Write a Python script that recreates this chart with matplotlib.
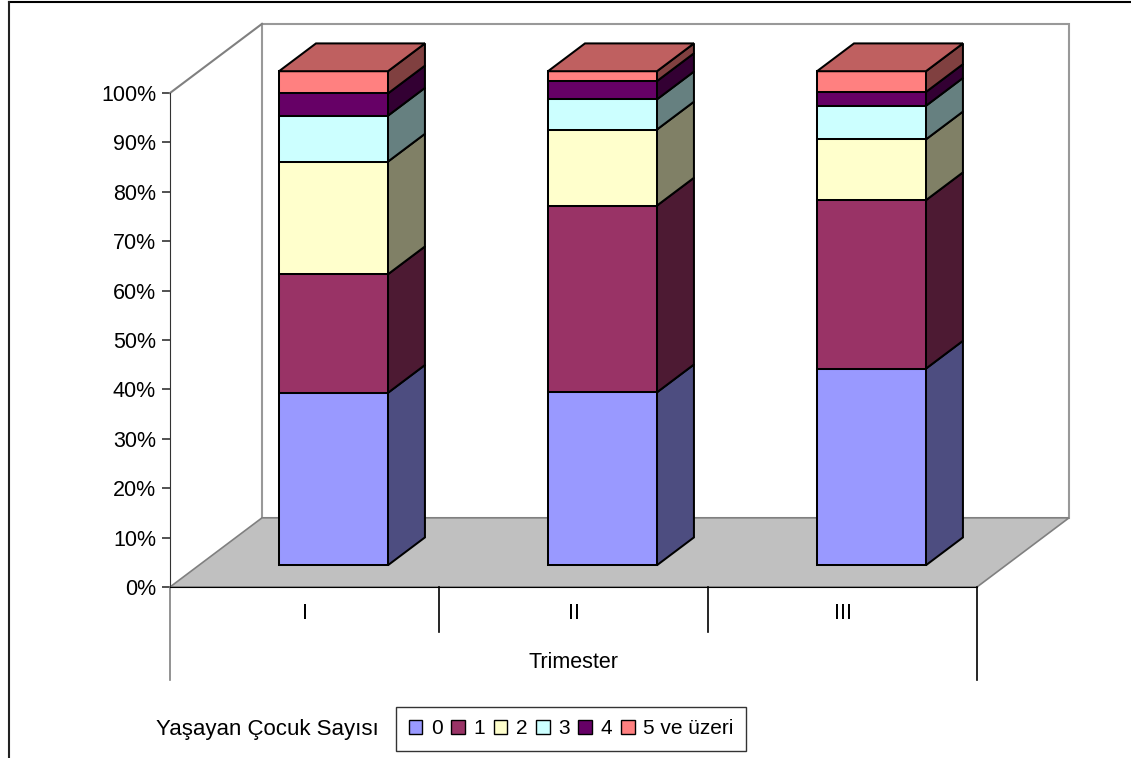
import matplotlib
matplotlib.use("Agg")
import matplotlib.pyplot as plt
from matplotlib.patches import Polygon, Patch
from matplotlib.lines import Line2D
import numpy as np

plt.rcParams['font.family'] = ['Liberation Sans', 'DejaVu Sans']
plt.rcParams['font.size'] = 15.5

# share of women by number of living children, per trimester (%)
trimesters = ['I', 'II', 'III']
series_names = ['0', '1', '2', '3', '4', '5 ve üzeri']
child_0 = [34.9, 35.0, 39.8]
child_1 = [24.0, 37.8, 34.1]
child_2 = [22.8, 15.4, 12.3]
child_3 = [9.3, 6.1, 6.8]
child_4 = [4.5, 3.7, 2.8]
child_5plus = [4.5, 2.0, 4.2]
colors = ['#9999FF', '#993366', '#FFFFCC', '#CCFFFF', '#660066', '#FF8080']

values = np.array([child_0, child_1, child_2, child_3, child_4, child_5plus])
pct = values / values.sum(axis=0) * 100

# fake 3d: depth offset of the back wall in data units
kx, ky = 0.342, 14.0
bar_w = 0.405
z0, z1 = 0.315, 0.717
edge_lw = 1.45


def proj(x, y, z):
    return (x + z * kx, y + z * ky)


def shade(c, f):
    r, g, b = matplotlib.colors.to_rgb(c)
    return (r * f, g * f, b * f)


fig = plt.figure(figsize=(11.31, 7.58), dpi=100)
ax = fig.add_axes([170 / 1131, 171 / 758, 807 / 1131, 494 / 758])
ax.set_xlim(0, 3)
ax.set_ylim(0, 100)
ax.patch.set_visible(False)

gray = '#808080'
# back wall, floor and left wall edge
wall = Polygon([proj(0, 0, 1), proj(3, 0, 1), proj(3, 100, 1), proj(0, 100, 1)],
               closed=True, facecolor='white', edgecolor='#999999', lw=1.5,
               clip_on=False, zorder=1)
ax.add_patch(wall)
floor = Polygon([proj(0, 0, 0), proj(3, 0, 0), proj(3, 0, 1), proj(0, 0, 1)],
                closed=True, facecolor='#C0C0C0', edgecolor=gray, lw=1.2,
                clip_on=False, zorder=2)
ax.add_patch(floor)
ax.plot(*zip(proj(0, 100, 0), proj(0, 100, 1)), color=gray, lw=1.5,
        clip_on=False, zorder=2)

# stacked columns
for i in range(len(trimesters)):
    x0 = i + 0.5 - bar_w / 2
    x1 = i + 0.5 + bar_w / 2
    bottom = 0.0
    for k in range(len(series_names)):
        top = bottom + pct[k, i]
        front = [proj(x0, bottom, z0), proj(x1, bottom, z0),
                 proj(x1, top, z0), proj(x0, top, z0)]
        side = [proj(x1, bottom, z0), proj(x1, bottom, z1),
                proj(x1, top, z1), proj(x1, top, z0)]
        ax.add_patch(Polygon(side, closed=True, facecolor=shade(colors[k], 0.5),
                             edgecolor='black', lw=edge_lw, clip_on=False, zorder=5))
        ax.add_patch(Polygon(front, closed=True, facecolor=colors[k],
                             edgecolor='black', lw=edge_lw, clip_on=False, zorder=6))
        if k == len(series_names) - 1:
            lid = [proj(x0, top, z0), proj(x1, top, z0),
                   proj(x1, top, z1), proj(x0, top, z1)]
            ax.add_patch(Polygon(lid, closed=True, facecolor=shade(colors[k], 0.75),
                                 edgecolor='black', lw=edge_lw, clip_on=False, zorder=6))
        bottom = top

# axes
for s in ['top', 'right']:
    ax.spines[s].set_visible(False)
ax.spines['left'].set_color('#333333')
ax.spines['bottom'].set_color('black')
ax.spines['left'].set_zorder(3)
ax.spines['bottom'].set_zorder(3)
ax.set_yticks(range(0, 101, 10))
ax.set_yticklabels([f'{v}%' for v in range(0, 101, 10)])
ax.tick_params(axis='y', length=6, width=1.2, pad=4, color='#333333')
ax.set_xticks([])

# two-level category axis below the floor
for xs, depth, c in [(0, -18.8, gray), (1, -9.1, 'black'), (2, -9.1, 'black'), (3, -18.8, 'black')]:
    ax.plot([xs, xs], [0, depth], color=c, lw=1.2, clip_on=False)
for i, t in enumerate(trimesters):
    ax.text(i + 0.5, -5.3, t, ha='center', va='center')
ax.text(1.5, -15.2, 'Trimester', ha='center', va='center')

# legend
handles = [Patch(facecolor=c, edgecolor='black', lw=1.0) for c in colors]
leg = fig.legend(handles, series_names, loc='center', ncol=6,
                 bbox_to_anchor=(571 / 1131, 1 - 729 / 758),
                 frameon=True, fancybox=False, edgecolor='black',
                 handlelength=0.66, handleheight=0.66, handletextpad=0.4,
                 columnspacing=0.42, borderpad=0.62, borderaxespad=0,
                 fontsize=15)
leg.get_frame().set_linewidth(1.0)
fig.text(379 / 1131, 1 - 729 / 758, 'Yaşayan Çocuk Sayısı', ha='right', va='center',
         fontsize=16)

# chart border
fig.add_artist(Line2D([9 / 1131, 1], [1 - 1.5 / 758, 1 - 1.5 / 758], color='black', lw=1.5))
fig.add_artist(Line2D([9 / 1131, 9 / 1131], [0, 1 - 1.5 / 758], color='#222222', lw=1.5))

fig.savefig('out.png', dpi=100)
